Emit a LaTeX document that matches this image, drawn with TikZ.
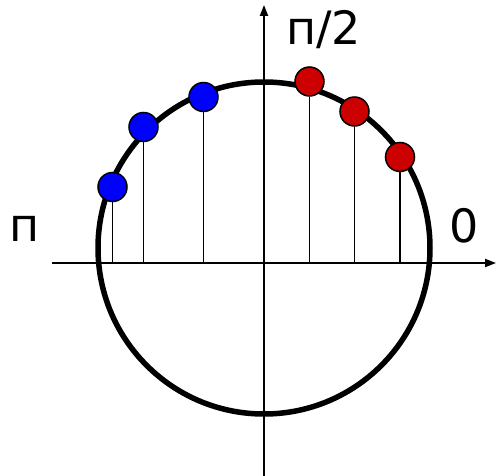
\documentclass[tikz,border=0pt]{standalone}
\usepackage{fontspec}
\setmainfont{DejaVu Sans}
\usetikzlibrary{arrows.meta}
\definecolor{dotblue}{HTML}{0000FF}
\definecolor{dotred}{HTML}{CC0000}
\tikzset{
  axis/.style={line width=2pt, -{Triangle[length=11pt,width=8pt]}},
  stem/.style={line width=1.8pt},
  dotb/.style={circle, draw=black, line width=1.5pt, fill=dotblue, minimum size=29pt, inner sep=0pt},
  dotr/.style={circle, draw=black, line width=1.5pt, fill=dotred, minimum size=29pt, inner sep=0pt},
  lbl/.style={font=\fontsize{46}{52}\selectfont, inner sep=0pt, anchor=base},
}
\begin{document}
\begin{tikzpicture}[x=1pt,y=-1pt]
\useasboundingbox (0,0) rectangle (496,476);
\node[draw, circle, line width=5.5pt, minimum size=332pt, inner sep=0pt] (ring) at (264,248) {};
\coordinate (O) at (264,263);
\coordinate (xl) at (52,263);
\coordinate (xr) at (496,263);
\coordinate (yb) at (264,476);
\coordinate (yt) at (264,5);
\draw[axis] (xl) -- (xr);
\draw[axis] (yb) -- (yt);
\node[dotb] (b1) at (112.5,187) {};
\node[dotb] (b2) at (143.5,127) {};
\node[dotb] (b3) at (203.5,97) {};
\node[dotr] (r1) at (309.5,81.5) {};
\node[dotr] (r2) at (354.5,111.5) {};
\node[dotr] (r3) at (400,157) {};
\foreach \d in {b1,b2,b3,r1,r2,r3} {
  \draw[stem] (\d.south) -- (\d |- O);
}
\node[lbl] (half) at (323.5,45) {п/2};
\node[lbl] (pi) at (25,242) {п};
\node[lbl] (zero) at (464,243) {0};
\end{tikzpicture}
\end{document}
